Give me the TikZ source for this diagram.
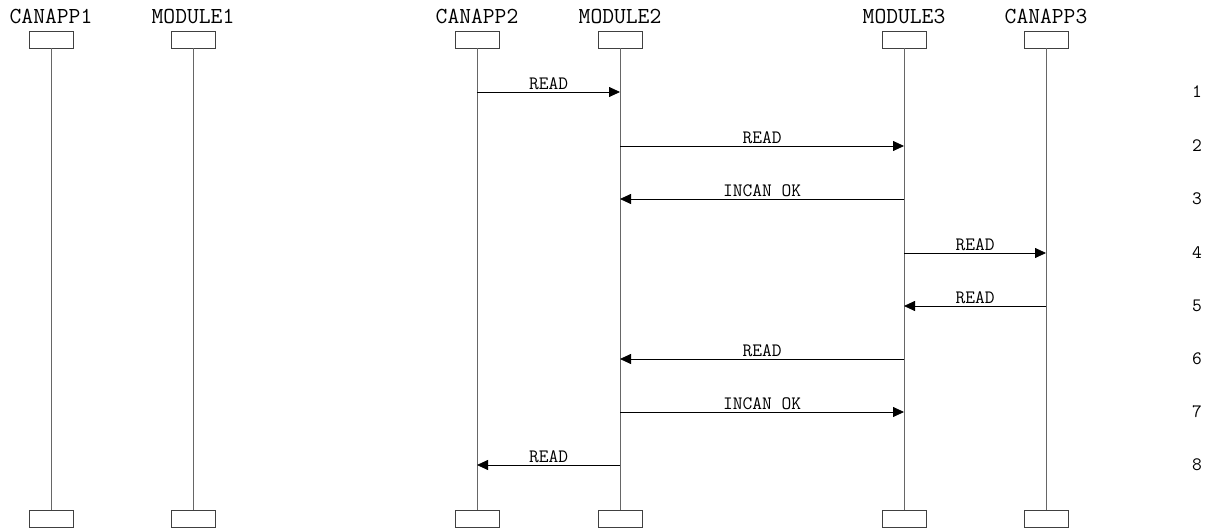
\documentclass[tikz,border=0pt]{standalone}
\usetikzlibrary{arrows.meta}
\begin{document}
\begin{tikzpicture}[x=1bp,y=-1bp,
  head/.style={font=\ttfamily\fontsize{23}{23}\selectfont, anchor=base, inner sep=0},
  lbox/.style={draw=black!75, line width=0.9bp, minimum width=44bp, minimum height=17bp, inner sep=0, fill=white},
  life/.style={draw=black!60, line width=0.9bp},
  msg/.style={draw=black, line width=0.8bp, -{Triangle[length=11bp,width=10bp]}},
  mlabel/.style={font=\ttfamily\fontsize{19}{19}\selectfont, above, inner sep=2bp},
  num/.style={font=\ttfamily\fontsize{19}{19}\selectfont, inner sep=0}]
\useasboundingbox (0,0) rectangle (1211,529);
% participants
\foreach \n/\x/\t in {a/51/CANAPP1, b/193/MODULE1, c/477/CANAPP2, d/620/MODULE2, e/904/MODULE3, f/1046/CANAPP3}{
  \node[head] (h\n) at (\x,24) {\t};
  \node[lbox] (t\n) at (\x,39.5) {};
  \node[lbox] (b\n) at (\x,518.5) {};
  \draw[life] (t\n.south) -- (b\n.north);
}
% message rows
\foreach \i/\y in {1/92,2/146,3/199,4/253,5/306,6/359,7/412,8/465}{
  \coordinate (r\i) at (0,\y);
  \node[num] (n\i) at (1197,\y) {\i};
}
\draw[msg] (tc |- r1) -- node[mlabel]{READ} (td |- r1);
\draw[msg] (td |- r2) -- node[mlabel]{READ} (te |- r2);
\draw[msg] (te |- r3) -- node[mlabel]{INCAN OK} (td |- r3);
\draw[msg] (te |- r4) -- node[mlabel]{READ} (tf |- r4);
\draw[msg] (tf |- r5) -- node[mlabel]{READ} (te |- r5);
\draw[msg] (te |- r6) -- node[mlabel]{READ} (td |- r6);
\draw[msg] (td |- r7) -- node[mlabel]{INCAN OK} (te |- r7);
\draw[msg] (td |- r8) -- node[mlabel]{READ} (tc |- r8);
\end{tikzpicture}
\end{document}
